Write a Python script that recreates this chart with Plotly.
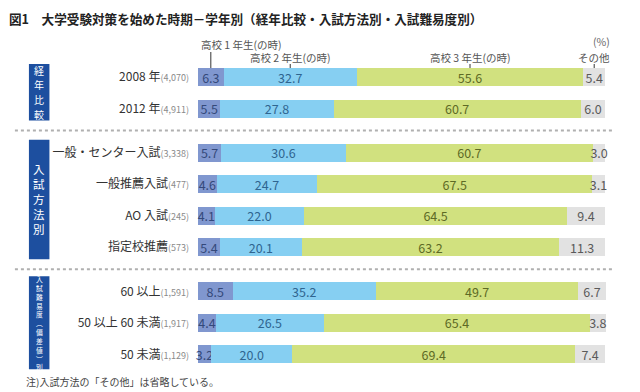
import plotly.graph_objects as go

# ---------------- data ----------------
categories = ["2008 年", "2012 年",
              "一般・センター入試", "一般推薦入試", "AO 入試", "指定校推薦",
              "60 以上", "50 以上 60 未満", "50 未満"]
counts = ["(4,070)", "(4,911)", "(3,338)", "(477)", "(245)", "(573)",
          "(1,591)", "(1,917)", "(1,129)"]
group_names = ["経年比較", "入試方法別", "入試難易度︵偏差値︶別"]
group_sizes = [2, 4, 3]
series_names = ["高校 1 年生(の時)", "高校 2 年生(の時)", "高校 3 年生(の時)", "その他"]
grade1 = [6.3, 5.5, 5.7, 4.6, 4.1, 5.4, 8.5, 4.4, 3.2]
grade2 = [32.7, 27.8, 30.6, 24.7, 22.0, 20.1, 35.2, 26.5, 20.0]
grade3 = [55.6, 60.7, 60.7, 67.5, 64.5, 63.2, 49.7, 65.4, 69.4]
other = [5.4, 6.0, 3.0, 3.1, 9.4, 11.3, 6.7, 3.8, 7.4]
title_text = "図1　大学受験対策を始めた時期－学年別（経年比較・入試方法別・入試難易度別）"
note_text = "注)入試方法の「その他」は省略している。"

# ---------------- layout constants ----------------
W, H = 640, 392
XMAX = 100.2                      # a little headroom so rows summing to 100.1 keep labels
ML, MT, MB = 198, 60, 20
PW = 407 * XMAX / 100.0
MR = W - ML - PW
PH = H - MT - MB
GAP = 0.4
Y0, Y1 = -0.54, 9.36

fill_colors = ["#8097cf", "#86cff2", "#d1e17f", "#e2e2e2"]
text_colors = ["#34497a", "#2f6590", "#5d6a25", "#5a5a5a"]
FONT = "Noto Sans CJK JP"

# row positions computed from group structure
positions = []
k = 0
for g, n in enumerate(group_sizes):
    for i in range(n):
        positions.append(k + g * GAP)
        k += 1


def px2x(px):
    return (px - ML) / PW


def py2y(py):
    return (MT + PH - py) / PH


def d2py(d):
    return MT + (d - Y0) / (Y1 - Y0) * PH


fig = go.Figure()
series = [grade1, grade2, grade3, other]
for name, vals, fc, tc in zip(series_names, series, fill_colors, text_colors):
    fig.add_trace(go.Bar(
        y=positions, x=vals, orientation="h", name=name,
        marker=dict(color=fc, line=dict(width=0)),
        text=[f"{v:.1f}" for v in vals], textposition="inside",
        insidetextanchor="middle", textangle=0,
        textfont=dict(size=12.5, color=tc, family=FONT),
        width=0.57, cliponaxis=False, constraintext="none",
    ))

ticktext = [f"{c}<span style='font-size:9px;color:#8a8a8a'>{n}</span>"
            for c, n in zip(categories, counts)]

shapes = []
annotations = []

# separators between groups
for g in range(len(group_sizes) - 1):
    last = sum(group_sizes[:g + 1]) - 1
    ymid = (positions[last] + positions[last + 1]) / 2
    yy = py2y(d2py(ymid))
    shapes.append(dict(type="line", xref="paper", yref="paper",
                       x0=px2x(15), x1=px2x(613), y0=yy, y1=yy,
                       line=dict(color="#b0b0b0", width=2, dash="dot")))

# group boxes with vertical text
box_style = [("chars", 10, 14.6), ("lines", 11.5, None), ("lines", 6.8, None)]
box_pad = [(13, 12), (13, 12), (15, 15)]
start = 0
for g, n in enumerate(group_sizes):
    first, last = positions[start], positions[start + n - 1]
    top_px, bot_px = d2py(first) - box_pad[g][0], d2py(last) + box_pad[g][1]
    shapes.append(dict(type="rect", xref="paper", yref="paper",
                       x0=px2x(29), x1=px2x(49.5),
                       y0=py2y(bot_px), y1=py2y(top_px),
                       fillcolor="#1d4f9f", line=dict(width=0), layer="above"))
    mode, fsize, pitch = box_style[g]
    chars = list(group_names[g])
    mid = (top_px + bot_px) / 2
    if mode == "chars":
        for j, ch in enumerate(chars):
            cy = mid + (j - (len(chars) - 1) / 2) * pitch
            annotations.append(dict(text=ch, xref="paper", yref="paper",
                                    x=px2x(39.25), y=py2y(cy),
                                    showarrow=False, xanchor="center", yanchor="middle",
                                    font=dict(size=fsize, color="white", family=FONT)))
    else:
        annotations.append(dict(text="<br>".join(chars), xref="paper", yref="paper",
                                x=px2x(39.25), y=py2y(mid),
                                showarrow=False, xanchor="center", yanchor="middle",
                                align="center",
                                font=dict(size=fsize, color="white", family=FONT)))
    start += n

# header labels with leader ticks (centres of the first row's segments)
cum = 0
centers = []
for vals in series:
    centers.append(cum + vals[0] / 2)
    cum += vals[0]
label_rows = [45, 57, 57, 57]
for i, (name, c) in enumerate(zip(series_names, centers)):
    xp = c / XMAX
    top_line = label_rows[i] + 7
    shapes.append(dict(type="line", xref="paper", yref="paper",
                       x0=xp, x1=xp, y0=py2y(top_line), y1=py2y(d2py(positions[0]) - 9),
                       line=dict(color="#333333", width=1)))
    if i == 0:
        annotations.append(dict(text=name, xref="paper", yref="paper",
                                x=xp - 12 / PW, y=py2y(label_rows[i]), showarrow=False,
                                xanchor="left", yanchor="middle",
                                font=dict(size=10.5, color="#555555", family=FONT)))
    else:
        annotations.append(dict(text=name, xref="paper", yref="paper",
                                x=xp, y=py2y(label_rows[i]), showarrow=False,
                                xanchor="center", yanchor="middle",
                                font=dict(size=10.5, color="#555555", family=FONT)))

annotations.append(dict(text="(%)", xref="paper", yref="paper",
                        x=px2x(601), y=py2y(42), showarrow=False,
                        xanchor="center", yanchor="middle",
                        font=dict(size=10.5, color="#666666", family=FONT)))
annotations.append(dict(text=f"<b>{title_text}</b>", xref="paper", yref="paper",
                        x=px2x(7), y=py2y(18), showarrow=False,
                        xanchor="left", yanchor="middle",
                        font=dict(size=12.6, color="#222222", family=FONT)))
annotations.append(dict(text=note_text, xref="paper", yref="paper",
                        x=px2x(24), y=py2y(382), showarrow=False,
                        xanchor="left", yanchor="middle",
                        font=dict(size=10, color="#444444", family=FONT)))

fig.update_layout(
    width=W, height=H,
    margin=dict(l=ML, r=MR, t=MT, b=MB, pad=0),
    paper_bgcolor="white", plot_bgcolor="white",
    barmode="stack", showlegend=False,
    uniformtext=dict(minsize=12.5, mode="show"),
    font=dict(family=FONT, color="#333333"),
    xaxis=dict(range=[0, XMAX], showgrid=False, zeroline=False,
               showticklabels=False, showline=False, fixedrange=True),
    yaxis=dict(range=[Y1, Y0], tickvals=positions, ticktext=ticktext,
               showgrid=False, zeroline=False, showline=False, ticks="",
               tickfont=dict(size=12, color="#333333", family=FONT),
               ticklabelstandoff=8, fixedrange=True),
    shapes=shapes, annotations=annotations,
)

fig.write_html("out.html",
               config={"displayModeBar": False},
               post_script="document.body.style.margin='0px';"
                           "document.body.style.overflow='hidden';")
